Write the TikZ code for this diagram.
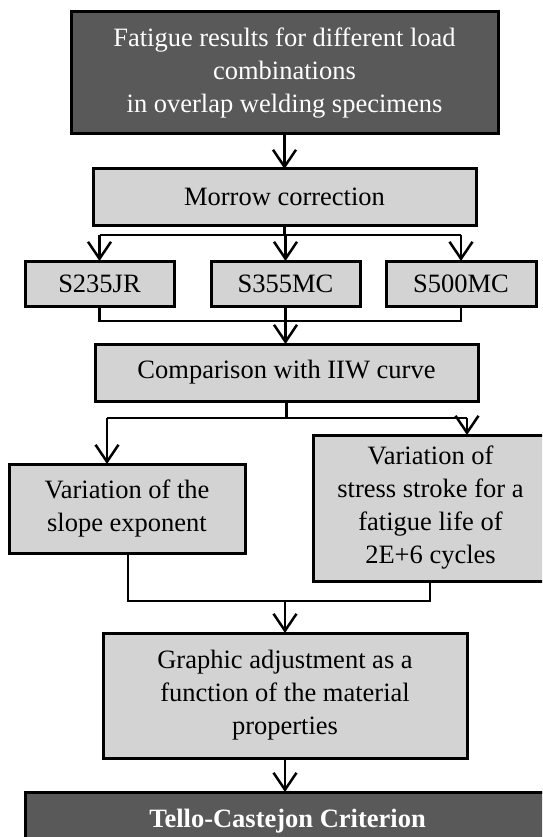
\documentclass[tikz,border=0pt]{standalone}
\usepackage{fontspec}
\setmainfont{Liberation Serif}
\usetikzlibrary{arrows.meta}
\definecolor{darkfill}{HTML}{595959}
\definecolor{lightfill}{HTML}{D3D3D3}
\tikzset{
  box/.style={draw=black, line width=3pt, rectangle, inner sep=0pt, outer sep=0pt,
    align=center, font=\fontsize{26.5}{33}\selectfont},
  darkbox/.style={box, fill=darkfill, text=white},
  lightbox/.style={box, fill=lightfill, text=black},
  conn/.style={draw=black, line width=2.5pt},
  arr/.style={conn, -{Straight Barb[length=17pt,width=23pt]}}
}
\begin{document}
\begin{tikzpicture}[x=1pt,y=-1pt]
\useasboundingbox (0,0) rectangle (542,837);
\clip (0,0) rectangle (542,837);
\fill[white] (0,0) rectangle (542,837);

\node[darkbox, minimum width=427pt, minimum height=122pt] (top) at (284.5,73)
  {Fatigue results for different load\\combinations\\in overlap welding specimens};
\node[lightbox, minimum width=383pt, minimum height=56pt] (morrow) at (284.5,197)
  {Morrow correction};
\node[lightbox, minimum width=149pt, minimum height=45pt] (s1) at (99.5,283.5) {S235JR};
\node[lightbox, minimum width=149pt, minimum height=45pt] (s2) at (285.5,283.5) {S355MC};
\node[lightbox, minimum width=150pt, minimum height=45pt] (s3) at (461,283.5) {S500MC};
\node[lightbox, minimum width=383pt, minimum height=57pt] (comp) at (286.5,372.5)
  {Comparison with IIW curve};
\node[lightbox, minimum width=236pt, minimum height=89pt] (left) at (127,508.5)
  {Variation of the\\slope exponent};
\node[lightbox, minimum width=235pt, minimum height=146pt] (right) at (430.5,508)
  {Variation of\\stress stroke for a\\fatigue life of\\2E+6 cycles};
\node[lightbox, minimum width=364pt, minimum height=125pt] (graphic) at (285,695.5)
  {Graphic adjustment as a\\function of the material\\properties};
\node[darkbox, minimum width=525pt, minimum height=58pt, font=\fontsize{26.5}{33}\selectfont\bfseries] (tello) at (287.5,821)
  {Tello-Castejon Criterion};

% top -> morrow
\draw[arr] (top) -- (morrow);
% morrow -> S boxes
\coordinate (b1) at (284.5,235);
\draw[conn] (morrow.south) -- (b1);
\draw[conn] (b1 -| s1) -- (b1 -| s3);
\draw[arr] (b1 -| s1) -- (s1.north);
\draw[arr] (b1 -| s2) -- (s2.north);
\draw[arr] (b1 -| s3) -- (s3.north);
% S boxes -> comparison
\coordinate (b2) at (286,321);
\draw[conn] (s1.south) -- (s1.south |- b2) -- (s3.south |- b2) -- (s3.south);
\draw[arr] (s2.south) -- (s2.south |- comp.north);
% comparison -> left/right
\coordinate (b3l) at (107,418);
\coordinate (b3r) at (467,418);
\draw[conn] (comp.south) -- (comp.south |- b3l);
\draw[conn] (b3l) -- (b3r);
\draw[arr] (b3l) -- (b3l |- left.north);
\draw[arr] (b3r) -- (b3r |- right.north);
% left/right -> graphic
\coordinate (b4l) at (128,601);
\coordinate (b4r) at (430,601);
\draw[conn] (b4l |- left.south) -- (b4l) -- (b4r) -- (b4r |- right.south);
\draw[arr] (graphic.north |- b4l) -- (graphic.north);
% graphic -> tello
\draw[arr] (graphic.south) -- (graphic.south |- tello.north);
\end{tikzpicture}
\end{document}
